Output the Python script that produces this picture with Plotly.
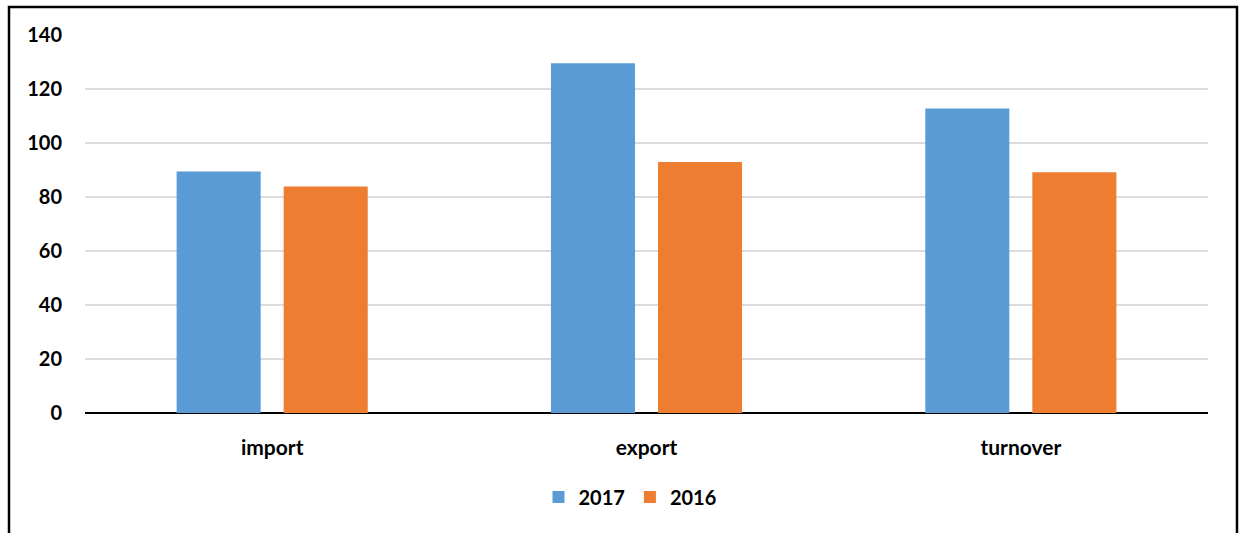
import plotly.graph_objects as go

categories = ["import", "export", "turnover"]
series_names = ["2017", "2016"]
values_2017 = [89.4, 129.5, 112.8]
values_2016 = [83.9, 93.0, 89.2]
colors = ["#5B9BD5", "#ED7D31"]
y_ticks = [0, 20, 40, 60, 80, 100, 120, 140]

W, H = 1243, 533
L, R, T, B = 85, 35, 35, 120
pw, ph = W - L - R, H - T - B

def px_to_paper_x(px):
    return (px - L) / pw

def px_to_paper_y(py):
    return (H - B - py) / ph

fig = go.Figure()
for name, vals, col in zip(series_names, [values_2017, values_2016], colors):
    fig.add_trace(go.Bar(x=categories, y=vals, name=name, marker=dict(color=col, line=dict(width=0))))

font_family = "Lato, Carlito, 'Open Sans', sans-serif"
fig.update_layout(
    width=W, height=H,
    margin=dict(l=L, r=R, t=T, b=B, autoexpand=False),
    paper_bgcolor="white", plot_bgcolor="white",
    barmode="group", bargap=0.428, bargroupgap=0.215,
    font=dict(family=font_family, size=20, color="black"),
    showlegend=True,
    legend=dict(orientation="h", x=px_to_paper_x(630), xanchor="center",
                y=px_to_paper_y(497), yanchor="middle",
                font=dict(family=font_family, size=20, color="black", weight="bold"),
                itemwidth=30, traceorder="normal", bgcolor="rgba(0,0,0,0)"),
    xaxis=dict(showgrid=False, showline=False, ticks="", ticklabelstandoff=20,
               tickfont=dict(family=font_family, size=21, color="black", weight="bold")),
    yaxis=dict(range=[0, 140], tickvals=y_ticks, showgrid=True, gridcolor="#DCDCDC", gridwidth=1.5,
               zeroline=True, zerolinecolor="black", zerolinewidth=1.5, showline=False,
               ticks="", ticklabelstandoff=22,
               tickfont=dict(family=font_family, size=20, color="black", weight="bold")),
    shapes=[dict(type="rect", xref="paper", yref="paper",
                 x0=px_to_paper_x(9), x1=px_to_paper_x(1237),
                 y0=px_to_paper_y(560), y1=px_to_paper_y(7),
                 line=dict(color="black", width=2.5), fillcolor="rgba(0,0,0,0)", layer="above")],
)

fig.write_html("out.html", config={"displayModeBar": False},
               post_script="document.body.style.margin='0';document.body.style.overflow='hidden';")
